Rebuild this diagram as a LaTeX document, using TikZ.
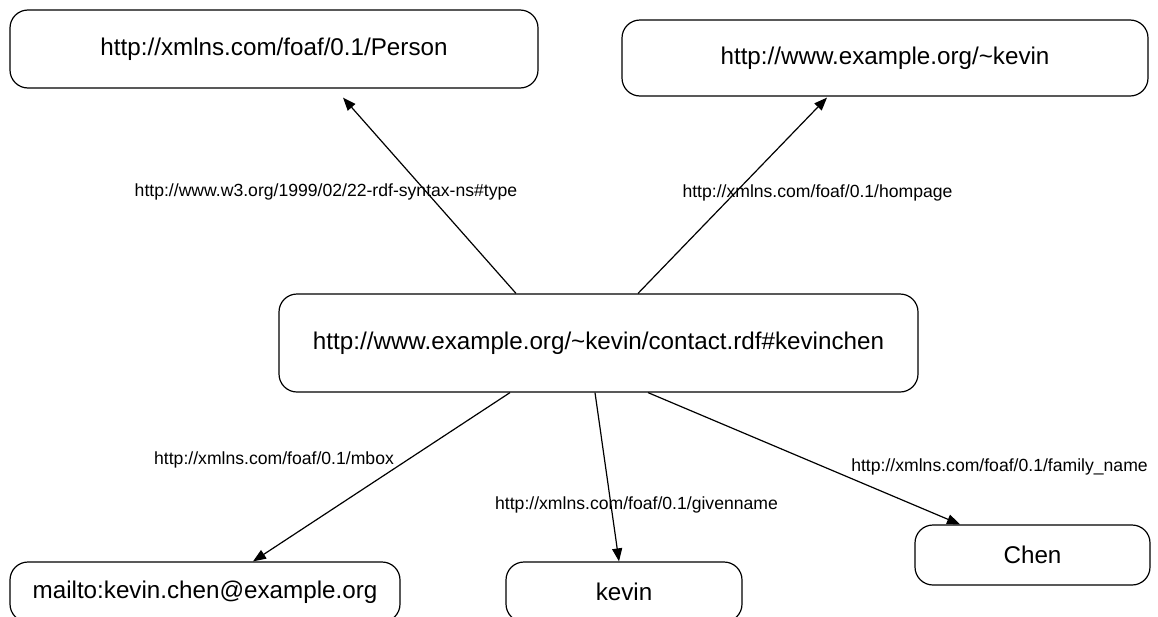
\documentclass[tikz,border=0pt]{standalone}
\usepackage{fontspec}
\setmainfont{Liberation Sans}
\usetikzlibrary{arrows.meta}
\begin{document}
\begin{tikzpicture}[x=1pt,y=-1pt,
  res/.style={draw, line width=1.2pt, rounded corners=18pt, inner sep=0pt, align=center,
    font=\fontsize{24.2}{28}\selectfont},
  rel/.style={line width=1.2pt, -{Triangle[length=13pt,width=10pt]}},
  lbl/.style={inner sep=0pt, font=\fontsize{17.6}{20}\selectfont}]
\path[use as bounding box] (0,0) rectangle (1158,616);
\clip (0,0) rectangle (1158,616);
\node[res, minimum width=528pt, minimum height=78pt] (p) at (274,49) {http://xmlns.com/foaf/0.1/Person};
\node[res, minimum width=526pt, minimum height=76pt] (h) at (885,58) {http://www.example.org/\char`\~kevin};
\node[res, minimum width=639pt, minimum height=98pt] (c) at (598.5,343) {http://www.example.org/\char`\~kevin/contact.rdf\#kevinchen};
\node[res, minimum width=390pt, minimum height=60pt] (m) at (205,592) {mailto:kevin.chen@example.org};
\node[res, minimum width=236pt, minimum height=60pt] (k) at (624,592) {kevin};
\node[res, minimum width=235pt, minimum height=60pt] (ch) at (1032.5,555) {Chen};
\draw[rel] ([xshift=-82.5pt]c.north) -- ([xshift=69pt,yshift=-9pt]p.south);
\draw[rel] ([xshift=39.5pt]c.north) -- ([xshift=-58pt,yshift=-1pt]h.south);
\draw[rel] ([xshift=-88.5pt]c.south) -- ([xshift=48pt]m.north);
\draw[rel] ([xshift=-3.5pt]c.south) -- ([xshift=-5pt]k.north);
\draw[rel] ([xshift=49.5pt]c.south) -- ([xshift=-72.5pt]ch.north);
\node[lbl] (l1) at (326,192) {http://www.w3.org/1999/02/22-rdf-syntax-ns\#type};
\node[lbl] (l2) at (817.5,193) {http://xmlns.com/foaf/0.1/hompage};
\node[lbl] (l3) at (274,460) {http://xmlns.com/foaf/0.1/mbox};
\node[lbl] (l4) at (636.5,505) {http://xmlns.com/foaf/0.1/givenname};
\node[lbl] (l5) at (999.5,467) {http://xmlns.com/foaf/0.1/family\_name};
\end{tikzpicture}
\end{document}
